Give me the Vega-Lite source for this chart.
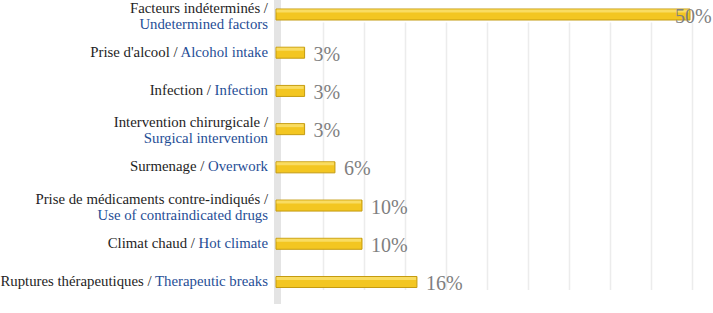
{
  "$schema": "https://vega.github.io/schema/vega-lite/v6.json",
  "width": 431,
  "height": 304,
  "autosize": {"type": "none"},
  "padding": {"left": 282, "top": 0, "right": 0, "bottom": 0},
  "background": "white",
  "config": {"view": {"stroke": null}, "font": "Liberation Serif", "text": {"font": "Liberation Serif"}},
  "data": {
    "values": [
      {"cat": "Facteurs indéterminés / Undetermined factors", "fr": "Facteurs indéterminés /\n", "en": "\nUndetermined factors", "two": true, "value": 50, "label": "50%"},
      {"cat": "Prise d'alcool / Alcohol intake", "fr": "Prise d'alcool / Alcohol intake", "en": "Alcohol intake", "two": false, "value": 3, "label": "3%"},
      {"cat": "Infection / Infection", "fr": "Infection / Infection", "en": "Infection", "two": false, "value": 3, "label": "3%"},
      {"cat": "Intervention chirurgicale / Surgical intervention", "fr": "Intervention chirurgicale /\n", "en": "\nSurgical intervention", "two": true, "value": 3, "label": "3%"},
      {"cat": "Surmenage / Overwork", "fr": "Surmenage / Overwork", "en": "Overwork", "two": false, "value": 6.7, "label": "6%"},
      {"cat": "Prise de médicaments contre-indiqués / Use of contraindicated drugs", "fr": "Prise de médicaments contre-indiqués /\n", "en": "\nUse of contraindicated drugs", "two": true, "value": 10, "label": "10%"},
      {"cat": "Climat chaud / Hot climate", "fr": "Climat chaud / Hot climate", "en": "Hot climate", "two": false, "value": 10, "label": "10%"},
      {"cat": "Ruptures thérapeutiques / Therapeutic breaks", "fr": "Ruptures thérapeutiques / Therapeutic breaks", "en": "Therapeutic breaks", "two": false, "value": 16.7, "label": "16%"}
    ]
  },
  "layer": [
    {
      "mark": {"type": "rule", "color": "#e4e4e4", "strokeWidth": 7, "xOffset": -4.5},
      "encoding": {
        "x": {"datum": 0, "type": "quantitative", "scale": {"domain": [0, 52.56], "nice": false, "zero": true},
          "axis": {"values": [5, 10, 15, 20, 25, 30, 35, 40, 45, 50], "grid": true, "gridColor": "#ececec", "gridWidth": 1.5, "labels": false, "ticks": false, "domain": false, "title": null}}
      }
    },
    {
      "mark": {"type": "bar", "height": 11, "fill": "#F3C621", "stroke": "#C49B10", "strokeWidth": 1, "xOffset": -2, "x2Offset": -6},
      "encoding": {
        "y": {"field": "cat", "type": "nominal", "sort": null, "axis": null, "scale": {"type": "point", "range": [14.5, 282], "padding": 0}},
        "x": {"field": "value", "type": "quantitative"},
        "x2": {"datum": 0}
      }
    },
    {
      "mark": {"type": "bar", "height": 3, "fill": "#F9DC62", "yOffset": -3.5, "xOffset": -3, "x2Offset": -5.5},
      "encoding": {
        "y": {"field": "cat", "type": "nominal", "sort": null},
        "x": {"field": "value", "type": "quantitative"},
        "x2": {"datum": 0}
      }
    },
    {
      "transform": [{"filter": "datum.two"}],
      "mark": {"type": "text", "font": "Liberation Serif", "align": "right", "baseline": "middle", "dx": -14, "dy": -6, "fontSize": 14.8, "lineHeight": 16, "lineBreak": "\n", "color": "#1e1e1e"},
      "encoding": {
        "y": {"field": "cat", "type": "nominal", "sort": null},
        "x": {"datum": 0},
        "text": {"field": "fr"}
      }
    },
    {
      "transform": [{"filter": "datum.two"}],
      "mark": {"type": "text", "font": "Liberation Serif", "align": "right", "baseline": "middle", "dx": -14, "dy": -6, "fontSize": 14.8, "lineHeight": 16, "lineBreak": "\n", "color": "#1F4E96"},
      "encoding": {
        "y": {"field": "cat", "type": "nominal", "sort": null},
        "x": {"datum": 0},
        "text": {"field": "en"}
      }
    },
    {
      "transform": [{"filter": "!datum.two"}],
      "mark": {"type": "text", "font": "Liberation Serif", "align": "right", "baseline": "middle", "dx": -14, "fontSize": 14.8, "color": "#1e1e1e"},
      "encoding": {
        "y": {"field": "cat", "type": "nominal", "sort": null},
        "x": {"datum": 0},
        "text": {"field": "fr"}
      }
    },
    {
      "transform": [{"filter": "!datum.two"}],
      "mark": {"type": "text", "font": "Liberation Serif", "align": "right", "baseline": "middle", "dx": -14, "fontSize": 14.8, "fill": "white", "stroke": "white", "strokeWidth": 2},
      "encoding": {
        "y": {"field": "cat", "type": "nominal", "sort": null},
        "x": {"datum": 0},
        "text": {"field": "en"}
      }
    },
    {
      "transform": [{"filter": "!datum.two"}],
      "mark": {"type": "text", "font": "Liberation Serif", "align": "right", "baseline": "middle", "dx": -14, "fontSize": 14.8, "color": "#1F4E96"},
      "encoding": {
        "y": {"field": "cat", "type": "nominal", "sort": null},
        "x": {"datum": 0},
        "text": {"field": "en"}
      }
    },
    {
      "transform": [{"filter": "datum.value < 40"}],
      "mark": {"type": "text", "font": "Liberation Serif", "align": "left", "baseline": "middle", "dx": 7, "dy": 2, "fontSize": 20, "color": "#7f7f7f"},
      "encoding": {
        "y": {"field": "cat", "type": "nominal", "sort": null},
        "x": {"field": "value", "type": "quantitative"},
        "text": {"field": "label"}
      }
    },
    {
      "transform": [{"filter": "datum.value >= 40"}],
      "mark": {"type": "text", "font": "Liberation Serif", "align": "left", "baseline": "middle", "dx": -17, "dy": 2, "fontSize": 20, "color": "#7f7f7f"},
      "encoding": {
        "y": {"field": "cat", "type": "nominal", "sort": null},
        "x": {"field": "value", "type": "quantitative"},
        "text": {"field": "label"}
      }
    }
  ]
}
